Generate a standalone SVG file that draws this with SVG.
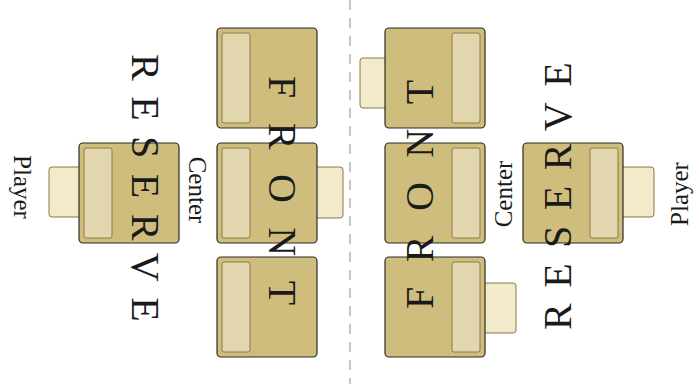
<svg xmlns="http://www.w3.org/2000/svg" width="699" height="384" viewBox="0 0 699 384">
  <style>
    .card { fill: #cfbd7d; stroke: #2e2b24; stroke-width: 1.2; }
    .slot { fill: #e1d6ae; stroke: #8c7a44; stroke-width: 1; }
    .tab { fill: #f2eacb; stroke: #8a7843; stroke-width: 1; }
    .big { font-family: "Liberation Serif", "Times New Roman", serif; font-size: 40px; fill: #1a1a1a; }
    .lbl { font-family: "Liberation Serif", "Times New Roman", serif; font-size: 25px; fill: #1a1a1a; }
    .divider { stroke: #b4b4b4; stroke-width: 1.5; stroke-dasharray: 10 8; fill: none; }
  </style>

  <!-- centre divider -->
  <g id="divider">
    <line class="divider" x1="350" y1="0" x2="350" y2="384"/>
  </g>

  <!-- left half -->
  <g id="left-front-top">
    <rect class="card" x="217" y="28" width="100" height="100" rx="4"/>
    <rect class="slot" x="222" y="33" width="28" height="90" rx="2"/>
  </g>
  <g id="left-front-center">
    <rect class="tab" x="305" y="167" width="38" height="51" rx="3"/>
    <rect class="card" x="217" y="143" width="100" height="100" rx="4"/>
    <rect class="slot" x="222" y="148" width="28" height="90" rx="2"/>
  </g>
  <g id="left-front-bottom">
    <rect class="card" x="217" y="257" width="100" height="100" rx="4"/>
    <rect class="slot" x="222" y="262" width="28" height="90" rx="2"/>
  </g>
  <g id="left-reserve">
    <rect class="tab" x="49" y="167" width="42" height="50" rx="3"/>
    <rect class="card" x="79" y="143" width="100" height="100" rx="4"/>
    <rect class="slot" x="84" y="148" width="28" height="90" rx="2"/>
  </g>

  <!-- right half -->
  <g id="right-front-top">
    <rect class="tab" x="360" y="58" width="40" height="50" rx="3"/>
    <rect class="card" x="385" y="28" width="100" height="100" rx="4"/>
    <rect class="slot" x="452" y="33" width="28" height="90" rx="2"/>
  </g>
  <g id="right-front-center">
    <rect class="card" x="385" y="143" width="100" height="100" rx="4"/>
    <rect class="slot" x="452" y="148" width="28" height="90" rx="2"/>
  </g>
  <g id="right-front-bottom">
    <rect class="tab" x="472" y="283" width="44" height="50" rx="3"/>
    <rect class="card" x="385" y="257" width="100" height="100" rx="4"/>
    <rect class="slot" x="452" y="262" width="28" height="90" rx="2"/>
  </g>
  <g id="right-reserve">
    <rect class="tab" x="611" y="167" width="43" height="50" rx="3"/>
    <rect class="card" x="523" y="143" width="100" height="100" rx="4"/>
    <rect class="slot" x="590" y="148" width="28" height="90" rx="2"/>
  </g>

  <!-- zone titles -->
  <g id="title-left-front">
    <text class="big" transform="translate(269,76) rotate(90)" letter-spacing="24.5">FRONT</text>
  </g>
  <g id="title-right-front">
    <text class="big" transform="translate(433,309) rotate(-90)" letter-spacing="24.5">FRONT</text>
  </g>
  <g id="title-left-reserve">
    <text class="big" transform="translate(132,54) rotate(90)" letter-spacing="15.5">RESERVE</text>
  </g>
  <g id="title-right-reserve">
    <text class="big" transform="translate(571,330) rotate(-90)" letter-spacing="15.5">RESERVE</text>
  </g>

  <!-- side labels -->
  <g id="label-left-player">
    <text class="lbl" text-anchor="middle" transform="translate(14,187) rotate(90)">Player</text>
  </g>
  <g id="label-left-center">
    <text class="lbl" text-anchor="middle" transform="translate(189,190) rotate(90)">Center</text>
  </g>
  <g id="label-right-center">
    <text class="lbl" text-anchor="middle" transform="translate(512,194) rotate(-90)">Center</text>
  </g>
  <g id="label-right-player">
    <text class="lbl" text-anchor="middle" transform="translate(688,194) rotate(-90)">Player</text>
  </g>
</svg>
